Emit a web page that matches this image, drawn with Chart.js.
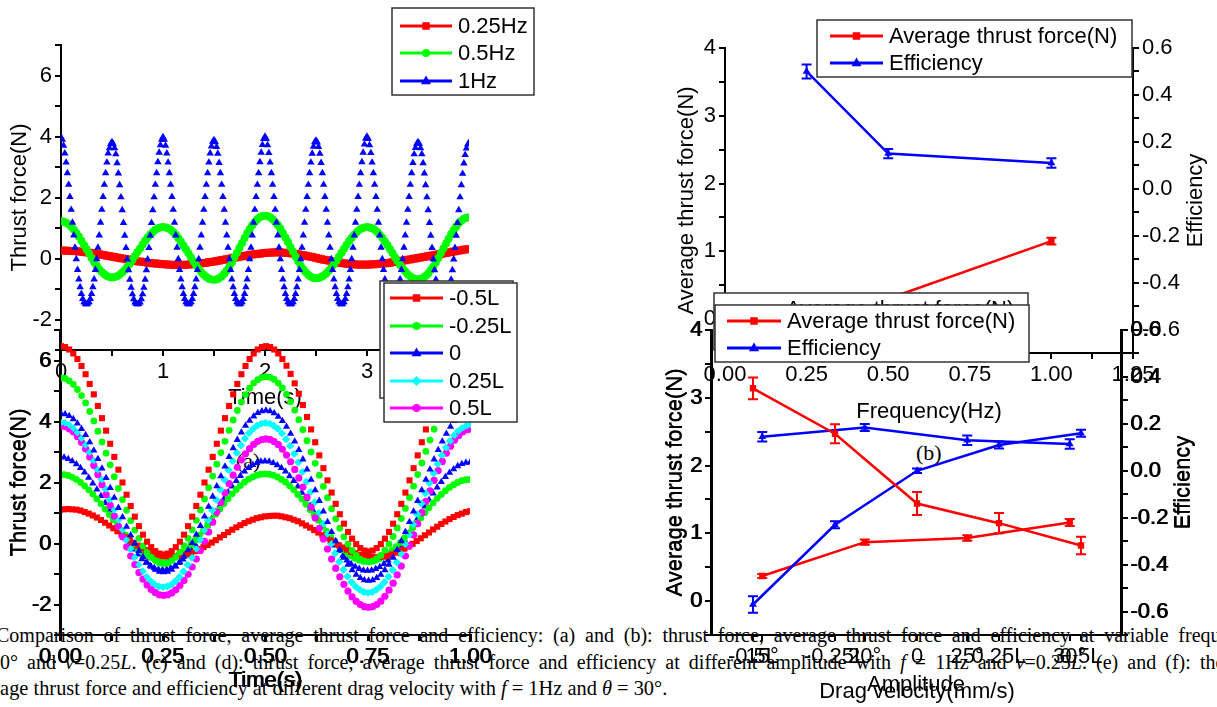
<!DOCTYPE html>
<html>
<head>
<meta charset="utf-8">
<script src="https://cdn.jsdelivr.net/npm/chart.js@4.4.1/dist/chart.umd.min.js"></script>
<style>
html, body { margin:0; padding:0; background:#fff; width:1217px; height:707px; overflow:hidden; position:relative; }
canvas { position:absolute; left:0; top:0; }
.cap { position:absolute; white-space:nowrap; font-family:"Liberation Serif","Times New Roman",serif; font-size:20px; line-height:24px; color:#000; }
.tag { position:absolute; font-family:"Liberation Serif","Times New Roman",serif; font-size:22px; color:#000; }
</style>
</head>
<body>
<div class="cap" style="left:-4px;top:623px;word-spacing:4.8px;">Comparison of thrust force, average thrust force and efficiency: (a) and (b): thrust force, average thrust force and efficiency at variable frequency with <i>θ</i> =</div>
<div class="cap" style="left:-10px;top:650px;word-spacing:4.1px;">30° and <i>v</i>=0.25<i>L</i>. (c) and (d): thrust force, average thrust force and efficiency at different amplitude with <i>f</i> = 1Hz and <i>v</i>=0.25<i>L</i>. (e) and (f): the thrust force,</div>
<div class="cap" style="left:-35px;top:676px;font-size:20.4px;">average thrust force and efficiency at different drag velocity with <i>f</i> = 1Hz and <i>θ</i> = 30°.</div>
<div class="tag" style="left:236px;top:448px;">(a)</div>
<div class="tag" style="left:916px;top:440px;">(b)</div>

<canvas id="cA" width="1217" height="707"></canvas>
<canvas id="cC" width="1217" height="707" style="left:-1px"></canvas>
<canvas id="cE" width="1217" height="707"></canvas>
<canvas id="cB" width="1217" height="707"></canvas>
<canvas id="cD" width="1217" height="707" style="left:-1px"></canvas>
<canvas id="cF" width="1217" height="707"></canvas>

<script>
// ---- (a) thrust force vs time, 0..4 s ----
const stepSlow = 0.025;   // 0.25Hz and 0.5Hz samples
const stepFast = 0.0125;  // 1Hz samples

const hz025 = [
  0.26,0.26,0.26,0.25,0.25,0.24,0.24,0.23,0.22,0.21,0.20,0.19,0.18,0.17,0.15,0.14,0.12,0.11,0.09,0.08,
  0.06,0.05,0.03,0.02,0.00,-0.01,-0.03,-0.04,-0.06,-0.07,-0.09,-0.10,-0.11,-0.12,-0.14,-0.15,-0.16,-0.16,-0.17,-0.18,
  -0.19,-0.19,-0.20,-0.20,-0.21,-0.21,-0.21,-0.21,-0.21,-0.20,-0.20,-0.19,-0.19,-0.18,-0.17,-0.16,-0.15,-0.14,-0.12,-0.11,
  -0.10,-0.08,-0.07,-0.05,-0.04,-0.02,-0.01,0.01,0.03,0.04,0.06,0.07,0.09,0.10,0.12,0.13,0.14,0.15,0.16,0.17,
  0.18,0.19,0.19,0.20,0.20,0.20,0.20,0.19,0.19,0.18,0.17,0.16,0.15,0.14,0.12,0.11,0.09,0.07,0.06,0.04,
  0.02,0.00,-0.02,-0.04,-0.05,-0.07,-0.09,-0.10,-0.12,-0.13,-0.15,-0.16,-0.17,-0.18,-0.19,-0.19,-0.20,-0.20,-0.20,-0.20,
  -0.20,-0.20,-0.19,-0.19,-0.18,-0.17,-0.17,-0.16,-0.15,-0.14,-0.12,-0.11,-0.10,-0.09,-0.07,-0.06,-0.04,-0.03,-0.01,0.00,
  0.02,0.03,0.05,0.06,0.08,0.09,0.11,0.12,0.14,0.15,0.17,0.18,0.20,0.21,0.23,0.24,0.26,0.27,0.29,0.30,
  0.31
];
const hz05 = [
  1.22,1.21,1.17,1.12,1.04,0.95,0.84,0.72,0.58,0.44,0.30,0.16,0.02,-0.12,-0.24,-0.35,-0.44,-0.52,-0.57,-0.61,
  -0.62,-0.61,-0.58,-0.53,-0.46,-0.38,-0.28,-0.17,-0.05,0.08,0.21,0.33,0.46,0.58,0.69,0.79,0.87,0.94,0.99,1.02,
  1.03,1.02,0.99,0.94,0.87,0.78,0.67,0.56,0.43,0.30,0.17,0.03,-0.10,-0.23,-0.34,-0.45,-0.53,-0.61,-0.66,-0.69,
  -0.70,-0.69,-0.65,-0.59,-0.50,-0.39,-0.27,-0.13,0.03,0.19,0.35,0.51,0.67,0.83,0.97,1.09,1.20,1.29,1.35,1.39,
  1.40,1.39,1.35,1.29,1.20,1.10,0.98,0.84,0.69,0.54,0.38,0.22,0.06,-0.09,-0.23,-0.35,-0.45,-0.54,-0.60,-0.64,
  -0.65,-0.64,-0.61,-0.56,-0.49,-0.40,-0.30,-0.19,-0.07,0.06,0.19,0.32,0.45,0.57,0.68,0.78,0.87,0.94,0.99,1.02,
  1.03,1.02,0.99,0.94,0.87,0.78,0.68,0.56,0.44,0.31,0.18,0.04,-0.09,-0.21,-0.33,-0.43,-0.52,-0.59,-0.64,-0.67,
  -0.68,-0.67,-0.63,-0.57,-0.49,-0.38,-0.26,-0.13,0.02,0.18,0.34,0.49,0.65,0.80,0.93,1.05,1.16,1.24,1.30,1.34,
  1.35
];
const hz1 = [
  3.97,3.90,3.70,3.45,3.15,2.80,2.42,2.02,1.60,1.18,0.76,0.36,-0.02,-0.37,-0.68,-0.94,-1.16,-1.32,-1.43,-1.48,-1.50,-1.48,-1.43,-1.32,-1.16,-0.94,-0.68,-0.37,-0.02,0.36,0.76,1.18,1.60,2.02,2.42,2.80,3.15,3.45,3.62,3.76,
  3.82,3.75,3.62,3.42,3.13,2.79,2.41,2.01,1.59,1.17,0.75,0.35,-0.03,-0.38,-0.69,-0.95,-1.17,-1.33,-1.44,-1.49,-1.50,-1.49,-1.44,-1.33,-1.17,-0.95,-0.69,-0.38,-0.03,0.35,0.75,1.17,1.59,2.01,2.42,2.80,3.16,3.47,3.72,3.90,
  3.98,3.90,3.70,3.45,3.15,2.80,2.42,2.02,1.60,1.18,0.76,0.36,-0.02,-0.37,-0.68,-0.94,-1.16,-1.32,-1.43,-1.48,-1.50,-1.48,-1.43,-1.32,-1.16,-0.94,-0.68,-0.37,-0.02,0.36,0.76,1.18,1.60,2.02,2.42,2.80,3.15,3.45,3.68,3.83,
  3.88,3.82,3.66,3.44,3.14,2.80,2.42,2.02,1.60,1.18,0.76,0.36,-0.02,-0.37,-0.68,-0.94,-1.16,-1.32,-1.43,-1.48,-1.50,-1.48,-1.43,-1.32,-1.16,-0.94,-0.68,-0.37,-0.02,0.36,0.76,1.18,1.60,2.02,2.42,2.80,3.16,3.47,3.73,3.92,
  4.00,3.92,3.72,3.46,3.15,2.80,2.42,2.02,1.60,1.18,0.76,0.36,-0.02,-0.37,-0.68,-0.94,-1.16,-1.32,-1.43,-1.48,-1.50,-1.48,-1.43,-1.32,-1.16,-0.94,-0.68,-0.37,-0.02,0.36,0.76,1.18,1.60,2.02,2.42,2.80,3.15,3.44,3.67,3.82,
  3.87,3.81,3.66,3.44,3.14,2.80,2.42,2.02,1.60,1.18,0.76,0.36,-0.02,-0.37,-0.68,-0.94,-1.16,-1.32,-1.43,-1.48,-1.50,-1.48,-1.43,-1.32,-1.16,-0.94,-0.68,-0.37,-0.02,0.36,0.76,1.18,1.60,2.02,2.42,2.80,3.16,3.47,3.74,3.93,
  4.00,3.92,3.72,3.46,3.15,2.80,2.42,2.02,1.60,1.18,0.76,0.36,-0.02,-0.37,-0.68,-0.94,-1.16,-1.32,-1.43,-1.48,-1.50,-1.48,-1.43,-1.32,-1.16,-0.94,-0.68,-0.37,-0.02,0.36,0.76,1.18,1.60,2.02,2.42,2.80,3.14,3.42,3.63,3.76,
  3.82,3.76,3.62,3.42,3.13,2.79,2.41,2.01,1.59,1.17,0.75,0.35,-0.03,-0.38,-0.69,-0.95,-1.17,-1.33,-1.44,-1.49,-1.50,-1.49,-1.44,-1.33,-1.17,-0.95,-0.69,-0.38,-0.03,0.35,0.75,1.17,1.59,2.01,2.41,2.78,3.12,3.40,3.61,3.74,
  3.80
];

// ---- (c)/(e) thrust force vs time, 0..1 s ----
const stepBottom = 0.01;
const dragM05 = [
  6.47,6.44,6.36,6.23,6.05,5.82,5.55,5.23,4.89,4.51,4.11,3.70,3.27,2.84,2.42,2.00,1.60,1.23,0.88,0.57,0.29,0.06,-0.12,-0.25,-0.33,-0.36,
  -0.33,-0.25,-0.12,0.06,0.29,0.57,0.88,1.23,1.60,2.00,2.42,2.84,3.27,3.70,4.11,4.51,4.89,5.23,5.55,5.82,6.05,6.23,6.36,6.44,6.47,
  6.44,6.36,6.23,6.05,5.83,5.56,5.25,4.91,4.54,4.15,3.74,3.32,2.89,2.47,2.07,1.67,1.30,0.96,0.65,0.38,0.16,-0.02,-0.15,-0.23,-0.26,
  -0.23,-0.15,-0.02,0.16,0.38,0.65,0.96,1.30,1.67,2.07,2.47,2.89,3.32,3.74,4.15,4.54,4.91,5.25,5.56,5.83,6.05,6.23,6.36,6.44,6.47];
const dragM025 = [
  5.43,5.41,5.33,5.22,5.05,4.85,4.61,4.33,4.02,3.68,3.33,2.96,2.58,2.19,1.81,1.44,1.09,0.75,0.44,0.17,-0.08,-0.28,-0.45,-0.56,-0.64,-0.66,
  -0.64,-0.56,-0.45,-0.28,-0.07,0.17,0.45,0.76,1.10,1.46,1.83,2.21,2.60,2.98,3.35,3.71,4.05,4.36,4.64,4.88,5.09,5.26,5.37,5.45,5.47,
  5.45,5.38,5.26,5.10,4.89,4.65,4.37,4.06,3.73,3.37,3.00,2.63,2.24,1.87,1.50,1.14,0.81,0.50,0.22,-0.02,-0.23,-0.39,-0.51,-0.58,-0.60,
  -0.58,-0.50,-0.39,-0.22,-0.02,0.23,0.51,0.82,1.15,1.51,1.88,2.26,2.64,3.02,3.39,3.75,4.08,4.39,4.67,4.92,5.12,5.29,5.40,5.48,5.50];
const drag0 = [
  4.26,4.24,4.18,4.08,3.94,3.76,3.56,3.32,3.05,2.77,2.46,2.15,1.82,1.50,1.17,0.86,0.55,0.27,0.00,-0.24,-0.44,-0.62,-0.76,-0.86,-0.92,-0.94,
  -0.92,-0.86,-0.75,-0.61,-0.43,-0.22,0.02,0.29,0.58,0.89,1.21,1.54,1.88,2.21,2.53,2.84,3.13,3.40,3.64,3.86,4.03,4.17,4.28,4.34,4.36,
  4.34,4.27,4.16,4.02,3.83,3.60,3.35,3.07,2.76,2.43,2.09,1.75,1.40,1.05,0.71,0.38,0.08,-0.21,-0.46,-0.69,-0.87,-1.02,-1.13,-1.20,-1.22,
  -1.20,-1.13,-1.02,-0.87,-0.69,-0.46,-0.21,0.08,0.38,0.71,1.05,1.40,1.75,2.09,2.43,2.76,3.07,3.35,3.60,3.83,4.02,4.16,4.27,4.34,4.36];
const dragP025 = [
  3.97,3.95,3.89,3.78,3.64,3.45,3.24,2.99,2.72,2.42,2.10,1.78,1.44,1.10,0.76,0.44,0.12,-0.18,-0.45,-0.70,-0.91,-1.10,-1.24,-1.35,-1.41,-1.43,
  -1.41,-1.35,-1.24,-1.10,-0.92,-0.70,-0.46,-0.18,0.12,0.43,0.76,1.09,1.43,1.76,2.09,2.41,2.70,2.97,3.22,3.44,3.62,3.76,3.87,3.93,3.95,
  3.93,3.86,3.76,3.61,3.42,3.20,2.94,2.66,2.35,2.03,1.69,1.35,1.00,0.65,0.31,-0.01,-0.32,-0.60,-0.86,-1.08,-1.27,-1.42,-1.52,-1.59,-1.61,
  -1.59,-1.52,-1.42,-1.27,-1.09,-0.87,-0.62,-0.34,-0.03,0.29,0.62,0.96,1.31,1.65,1.98,2.30,2.61,2.89,3.14,3.36,3.54,3.69,3.79,3.86,3.88];
const dragP05 = [
  3.85,3.83,3.76,3.66,3.51,3.32,3.10,2.84,2.56,2.26,1.93,1.60,1.25,0.90,0.56,0.22,-0.11,-0.41,-0.69,-0.95,-1.17,-1.36,-1.51,-1.61,-1.68,-1.70,
  -1.68,-1.62,-1.52,-1.38,-1.21,-1.01,-0.77,-0.51,-0.23,0.07,0.38,0.70,1.03,1.35,1.66,1.96,2.24,2.50,2.74,2.94,3.11,3.25,3.35,3.41,3.43,
  3.41,3.34,3.24,3.09,2.90,2.68,2.43,2.15,1.85,1.52,1.19,0.84,0.50,0.15,-0.18,-0.51,-0.81,-1.09,-1.34,-1.56,-1.75,-1.90,-2.00,-2.07,-2.09,
  -2.07,-2.00,-1.89,-1.73,-1.53,-1.30,-1.03,-0.74,-0.41,-0.07,0.28,0.65,1.01,1.38,1.73,2.07,2.39,2.69,2.96,3.19,3.39,3.54,3.66,3.73,3.75];
const amp15 = [
  1.11,1.12,
  1.13,1.12,1.11,1.08,1.03,0.98,0.92,0.85,0.77,0.68,0.59,0.50,0.40,0.30,0.20,0.11,0.02,-0.07,-0.15,-0.22,-0.28,-0.33,-0.38,-0.41,-0.42,-0.43,
  -0.43,-0.41,-0.38,-0.35,-0.30,-0.25,-0.19,-0.12,-0.05,0.03,0.11,0.20,0.28,0.37,0.45,0.53,0.60,0.67,0.73,0.78,0.83,0.86,0.89,0.90,0.91,
  0.91,0.89,0.86,0.83,0.78,0.73,0.66,0.59,0.52,0.44,0.36,0.27,0.19,0.10,0.02,-0.06,-0.13,-0.20,-0.27,-0.32,-0.37,-0.40,-0.43,-0.44,-0.45,
  -0.44,-0.43,-0.40,-0.36,-0.30,-0.24,-0.17,-0.10,-0.01,0.08,0.17,0.27,0.36,0.46,0.55,0.64,0.72,0.80,0.87,0.93,0.98,1.03,1.06];
const amp20 = [
  2.27,2.26,2.23,2.17,2.10,2.00,1.89,1.76,1.62,1.46,1.30,1.13,0.95,0.78,0.60,0.43,0.27,0.11,-0.03,-0.16,-0.27,-0.37,-0.44,-0.50,-0.53,-0.54,
  -0.53,-0.50,-0.44,-0.37,-0.27,-0.16,-0.03,0.11,0.27,0.43,0.61,0.78,0.96,1.13,1.31,1.47,1.63,1.77,1.90,2.01,2.11,2.18,2.24,2.27,2.28,
  2.27,2.24,2.18,2.10,2.01,1.89,1.76,1.61,1.46,1.29,1.11,0.94,0.76,0.58,0.40,0.23,0.08,-0.07,-0.20,-0.32,-0.41,-0.49,-0.55,-0.58,-0.59,
  -0.58,-0.55,-0.50,-0.42,-0.33,-0.23,-0.10,0.03,0.18,0.34,0.51,0.67,0.84,1.01,1.17,1.33,1.48,1.61,1.73,1.84,1.93,2.00,2.06,2.09,2.10];
const amp25 = [
  2.83,2.82,2.77,2.70,2.60,2.48,2.33,2.16,1.97,1.77,1.56,1.33,1.10,0.87,0.64,0.42,0.20,0.00,-0.19,-0.36,-0.51,-0.63,-0.73,-0.80,-0.85,-0.86,
  -0.85,-0.80,-0.74,-0.64,-0.52,-0.38,-0.21,-0.03,0.16,0.37,0.59,0.81,1.03,1.25,1.47,1.68,1.87,2.05,2.22,2.36,2.48,2.58,2.64,2.69,2.70,
  2.69,2.64,2.57,2.48,2.36,2.21,2.05,1.87,1.67,1.46,1.24,1.02,0.79,0.57,0.35,0.14,-0.06,-0.24,-0.40,-0.55,-0.67,-0.76,-0.83,-0.88,-0.89,
  -0.88,-0.83,-0.77,-0.67,-0.55,-0.41,-0.25,-0.07,0.13,0.34,0.55,0.77,1.00,1.22,1.43,1.64,1.84,2.02,2.18,2.32,2.44,2.54,2.61,2.65,2.66];
const amp30 = dragP025; // same run: f=1Hz, 30°, v=0.25L

// ---- (b) frequency ----
const freqHz = [0.25, 0.5, 1.0];
const freqThrust = [0.10, 0.30, 1.15];
const freqThrustErr = [0.03, 0.03, 0.05];
const freqEff = [0.50, 0.15, 0.11];
const freqEffErr = [0.03, 0.02, 0.02];

// ---- (d) amplitude ----
const ampCats = ['15°', '20°', '25°', '30°'];
const ampThrust = [0.37, 0.87, 0.93, 1.16];
const ampThrustErr = [0.03, 0.04, 0.04, 0.05];
const ampEff = [0.145, 0.184, 0.13, 0.114];
const ampEffErr = [0.02, 0.015, 0.02, 0.02];

// ---- (f) drag velocity ----
const dragCats = ['-0.5L', '-0.25L', '0', '0.25L', '0.5L'];
const dragThrust = [3.14, 2.47, 1.44, 1.15, 0.82];
const dragThrustErr = [0.16, 0.14, 0.17, 0.15, 0.13];
const dragEff = [-0.57, -0.23, 0.0, 0.11, 0.16];
const dragEffErr = [0.035, 0.015, 0.01, 0.015, 0.015];

const RED = '#ff0000', GREEN = '#00ff00', BLUE = '#0000ff', CYAN = '#00ffff', MAGENTA = '#ff00ff';
const FONT = '22px "Liberation Sans", Arial, sans-serif';

Chart.defaults.font.family = '"Liberation Sans", Arial, sans-serif';
Chart.defaults.font.size = 22;
Chart.defaults.color = '#000';
Chart.defaults.animation = false;
Chart.defaults.events = [];

function pts(vals, step) {
  return vals.map((v, i) => ({x: +(i * step).toFixed(4), y: v}));
}

function marker(ctx, style, x, y, r) {
  ctx.beginPath();
  if (style === 'rect') { const s = r * 0.75; ctx.rect(x - s, y - s, 2 * s, 2 * s); }
  else if (style === 'triangle') { ctx.moveTo(x, y - r * 1.1); ctx.lineTo(x + r, y + r * 0.65); ctx.lineTo(x - r, y + r * 0.65); ctx.closePath(); }
  else if (style === 'rectRot') { ctx.moveTo(x, y - r); ctx.lineTo(x + r, y); ctx.lineTo(x, y + r); ctx.lineTo(x - r, y); ctx.closePath(); }
  else ctx.arc(x, y, r * 0.8, 0, Math.PI * 2);
  ctx.fill();
}

// framed legend drawn at a fixed place
const boxLegend = {
  id: 'boxLegend',
  afterDraw(chart, args, o) {
    if (!o || !o.box) return;
    const ctx = chart.ctx, b = o.box;
    ctx.save();
    ctx.fillStyle = '#fff';
    ctx.fillRect(b[0], b[1], b[2] - b[0], b[3] - b[1]);
    ctx.strokeStyle = '#333';
    ctx.lineWidth = 1.5;
    ctx.strokeRect(b[0], b[1], b[2] - b[0], b[3] - b[1]);
    ctx.font = FONT;
    ctx.textBaseline = 'middle';
    chart.data.datasets.forEach((ds, i) => {
      const y = o.rows[i];
      ctx.strokeStyle = ds.borderColor;
      ctx.lineWidth = 3;
      ctx.beginPath(); ctx.moveTo(o.line[0], y); ctx.lineTo(o.line[1], y); ctx.stroke();
      ctx.fillStyle = ds.borderColor;
      marker(ctx, ds.pointStyle, (o.line[0] + o.line[1]) / 2, y, 5);
      ctx.fillStyle = '#000';
      ctx.fillText(ds.label, o.textX, y + 1);
    });
    ctx.restore();
  }
};

// right-hand axis title, rotated like the left one
const sideTitle = {
  id: 'sideTitle',
  afterDraw(chart, args, o) {
    if (!o || !o.text) return;
    const ctx = chart.ctx, a = chart.chartArea;
    ctx.save();
    ctx.translate(o.x, (a.top + a.bottom) / 2);
    ctx.rotate(-Math.PI / 2);
    ctx.font = FONT;
    ctx.fillStyle = '#000';
    ctx.textAlign = 'center';
    ctx.textBaseline = 'middle';
    ctx.fillText(o.text, 0, 0);
    ctx.restore();
  }
};

const errorBars = {
  id: 'errorBars',
  afterDatasetsDraw(chart) {
    const ctx = chart.ctx;
    chart.data.datasets.forEach((ds, i) => {
      if (!ds.errors) return;
      const meta = chart.getDatasetMeta(i);
      const ys = chart.scales[ds.yAxisID];
      ctx.save();
      ctx.strokeStyle = ds.borderColor;
      ctx.lineWidth = 2;
      meta.data.forEach((el, j) => {
        const d = ds.data[j];
        const v = (typeof d === 'object') ? d.y : d;
        const e = ds.errors[j];
        const y1 = ys.getPixelForValue(v - e), y2 = ys.getPixelForValue(v + e);
        ctx.beginPath();
        ctx.moveTo(el.x, y1); ctx.lineTo(el.x, y2);
        ctx.moveTo(el.x - 5, y1); ctx.lineTo(el.x + 5, y1);
        ctx.moveTo(el.x - 5, y2); ctx.lineTo(el.x + 5, y2);
        ctx.stroke();
      });
      ctx.restore();
    });
  }
};

function scale(extra, size, isX) {
  const s = {
    border: {display: true, color: '#000', width: 2},
    grid: {drawOnChartArea: false, drawTicks: true, tickLength: 6, color: '#000', lineWidth: 2},
    ticks: {color: '#000', font: {size: 22}, padding: 3, maxRotation: 0, minRotation: 0, autoSkip: false},
    afterFit: isX ? (sc => { sc.height = size; }) : (sc => { sc.width = size; })
  };
  Object.keys(extra).forEach(k => {
    s[k] = (typeof extra[k] === 'object' && !Array.isArray(extra[k]) && s[k]) ? Object.assign({}, s[k], extra[k]) : extra[k];
  });
  return s;
}

const evenInt = v => (v % 2 === 0 ? v : '');
const wholeInt = v => (Number.isInteger(v) ? v : '');
const quarter = v => (Math.round(v * 8) % 2 === 0 ? v.toFixed(2) : '');
const tenth = v => (Math.round(v * 10) % 2 === 0 ? (Math.round(v * 10) / 10).toFixed(1) : '');

function ts(label, vals, step, color, style, r, order) {
  return {label, data: pts(vals, step), borderColor: color, backgroundColor: color,
    pointBackgroundColor: color, pointBorderWidth: 0, pointStyle: style, pointRadius: r,
    showLine: false, order: order || 0};
}

function timeChart(id, datasets, pad, xMax, xH, xTitlePad, legend, xCb) {
  return new Chart(document.getElementById(id), {
    type: 'line',
    data: {datasets},
    options: {
      responsive: false,
      layout: {padding: pad},
      plugins: {legend: {display: false}, tooltip: {enabled: false}, boxLegend: legend},
      scales: {
        x: scale({type: 'linear', position: 'bottom', min: 0, max: xMax,
          ticks: {stepSize: xMax / 8, callback: xCb},
          title: {display: true, text: 'Time(s)', color: '#000', font: {size: 22}, padding: {top: 0, bottom: xTitlePad}}}, xH, true),
        y: scale({type: 'linear', position: 'left', min: -3, max: 7,
          ticks: {stepSize: 1, callback: evenInt},
          title: {display: true, text: 'Thrust force(N)', color: '#000', font: {size: 22}, padding: {top: 7, bottom: 0}}}, 61, false)
      }
    },
    plugins: [boxLegend]
  });
}

// (a)
timeChart('cA', [
  ts('0.25Hz', hz025, stepSlow, RED, 'rect', 5.5, 2),
  ts('0.5Hz', hz05, stepSlow, GREEN, 'circle', 4, 1),
  ts('1Hz', hz1, stepFast, BLUE, 'triangle', 4.3, 0)
], {left: 0, top: 45, right: 748, bottom: 292}, 4, 65, 4,
  {box: [392, 8, 534, 95], rows: [26, 53, 81], line: [400, 452], textX: 458}, wholeInt);

// (c) amplitude
timeChart('cC', [
  ts('15°', amp15, stepBottom, RED, 'rect', 4.3),
  ts('20°', amp20, stepBottom, GREEN, 'circle', 3.4),
  ts('25°', amp25, stepBottom, BLUE, 'triangle', 4.2),
  ts('30°', amp30, stepBottom, CYAN, 'rectRot', 3.7)
], {left: 0, top: 330, right: 746, bottom: 9}, 1, 63, 4,
  {box: [381, 281, 514, 398], rows: [296, 323, 351, 378], line: [388, 441], textX: 447}, quarter);

// (e) drag velocity
timeChart('cE', [
  ts('-0.5L', dragM05, stepBottom, RED, 'rect', 4.3),
  ts('-0.25L', dragM025, stepBottom, GREEN, 'circle', 3.4),
  ts('0', drag0, stepBottom, BLUE, 'triangle', 4.2),
  ts('0.25L', dragP025, stepBottom, CYAN, 'rectRot', 3.7),
  ts('0.5L', dragP05, stepBottom, MAGENTA, 'circle', 3.6)
], {left: 0, top: 330, right: 746, bottom: 9}, 1, 63, 4,
  {box: [384, 283, 517, 422], rows: [298, 326, 353, 381, 408], line: [390, 443], textX: 449}, quarter);

function avgSets(thrust, tErr, eff, eErr, xs) {
  const mk = (vals) => xs ? vals.map((v, i) => ({x: xs[i], y: v})) : vals;
  return [
    {label: 'Average thrust force(N)', data: mk(thrust), errors: tErr, yAxisID: 'y',
     borderColor: RED, backgroundColor: RED, pointBackgroundColor: RED, pointBorderWidth: 0,
     pointStyle: 'rect', pointRadius: 4.5, borderWidth: 2.5, showLine: true, tension: 0},
    {label: 'Efficiency', data: mk(eff), errors: eErr, yAxisID: 'y1',
     borderColor: BLUE, backgroundColor: BLUE, pointBackgroundColor: BLUE, pointBorderWidth: 0,
     pointStyle: 'triangle', pointRadius: 4.5, borderWidth: 2.5, showLine: true, tension: 0}
  ];
}

function avgChart(id, labels, datasets, xScale, pad, leftPad, rightX, legend) {
  return new Chart(document.getElementById(id), {
    type: 'line',
    data: labels ? {labels, datasets} : {datasets},
    options: {
      responsive: false,
      layout: {padding: pad},
      plugins: {legend: {display: false}, tooltip: {enabled: false}, boxLegend: legend,
        sideTitle: {text: 'Efficiency', x: rightX}},
      scales: {
        x: xScale,
        y: scale({type: 'linear', position: 'left', min: -0.5, max: 4,
          ticks: {stepSize: 0.5, callback: wholeInt},
          title: {display: true, text: 'Average thrust force(N)', color: '#000', font: {size: 22}, padding: {top: leftPad, bottom: 0}}}, 60, false),
        y1: scale({type: 'linear', position: 'right', min: -0.7, max: 0.6,
          ticks: {stepSize: 0.1, callback: tenth}}, 80, false)
      }
    },
    plugins: [errorBars, sideTitle, boxLegend]
  });
}

// (b) frequency
avgChart('cB', null, avgSets(freqThrust, freqThrustErr, freqEff, freqEffErr, freqHz),
  scale({type: 'linear', position: 'bottom', min: 0, max: 1.25,
    ticks: {stepSize: 0.125, callback: quarter},
    title: {display: true, text: 'Frequency(Hz)', color: '#000', font: {size: 22}, padding: {top: 0, bottom: 4}}}, 76, true),
  {left: 665, top: 48, right: 4, bottom: 278}, 8.8, 1196,
  {box: [817, 20, 1132, 77], rows: [36, 63], line: [830, 883], textX: 889});

// (d) amplitude
avgChart('cD', ampCats, avgSets(ampThrust, ampThrustErr, ampEff, ampEffErr),
  scale({type: 'category', position: 'bottom', offset: true,
    grid: {offset: false},
    title: {display: true, text: 'Amplitude', color: '#000', font: {size: 22}, padding: {top: 0, bottom: 4}}}, 67, true),
  {left: 652, top: 330, right: 15, bottom: 5}, 10.8, 1184,
  {box: [715, 293, 1029, 350], rows: [309, 336], line: [727, 781], textX: 787});

// (f) drag velocity
avgChart('cF', dragCats, avgSets(dragThrust, dragThrustErr, dragEff, dragEffErr),
  scale({type: 'category', position: 'bottom', offset: true,
    grid: {offset: false},
    title: {display: true, text: 'Drag velocity(mm/s)', color: '#000', font: {size: 22}, padding: {top: 0, bottom: 0}}}, 70, true),
  {left: 652, top: 330, right: 15, bottom: 2}, 10.8, 1184,
  {box: [715, 305, 1029, 362], rows: [321, 348], line: [727, 781], textX: 787});
</script>
</body>
</html>
